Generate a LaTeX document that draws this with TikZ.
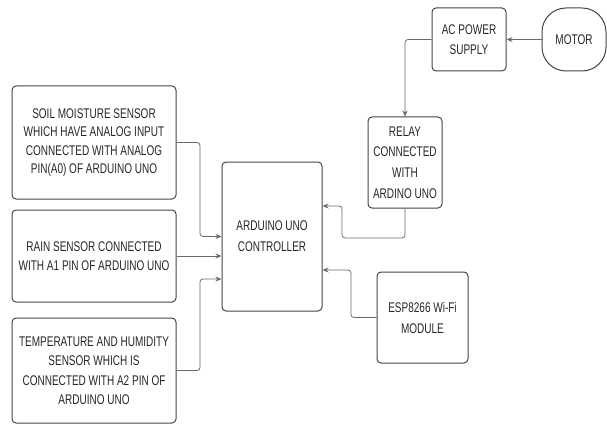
\documentclass[tikz,border=0pt]{standalone}
\usepackage{fontspec}
\setmainfont{Liberation Sans}[FakeStretch=0.715]
\usetikzlibrary{arrows.meta}
\definecolor{txt}{HTML}{262626}
\definecolor{bord}{HTML}{454545}
\definecolor{wire}{HTML}{6A6A6A}
\begin{document}
\begin{tikzpicture}[x=1pt,y=-1pt,
  box/.style={draw=bord,line width=1pt,rounded corners=4pt,inner sep=0pt,align=center,
    text=txt,font=\fontsize{14}{19.5}\selectfont},
  conn/.style={draw=wire,line width=0.8pt,rounded corners=3pt,
    -{Stealth[length=6pt,width=5pt]}}]
\useasboundingbox (0,0) rectangle (607,425);
% nodes
\node[box,minimum width=164pt,minimum height=113pt,font=\fontsize{14}{18.3}\selectfont] (soil) at (94,142.5)
  {SOIL MOISTURE SENSOR\\WHICH HAVE ANALOG INPUT\\CONNECTED WITH ANALOG\\PIN(A0) OF ARDUINO UNO};
\node[box,minimum width=164pt,minimum height=92pt] (rain) at (94,256)
  {RAIN SENSOR CONNECTED\\WITH A1 PIN OF ARDUINO UNO};
\node[box,minimum width=164pt,minimum height=105pt] (temp) at (94,370.5)
  {TEMPERATURE AND HUMIDITY\\SENSOR WHICH IS\\CONNECTED WITH A2 PIN OF\\ARDUINO UNO};
\node[box,minimum width=100pt,minimum height=149pt,font=\fontsize{14}{21}\selectfont] (ard) at (272,236.5)
  {ARDUINO UNO\\CONTROLLER};
\node[box,minimum width=74pt,minimum height=91pt,font=\fontsize{14}{20.7}\selectfont] (relay) at (405,162.5)
  {RELAY\\CONNECTED\\WITH\\ARDINO UNO};
\node[box,minimum width=74pt,minimum height=63pt] (ac) at (469,39.5)
  {AC POWER\\SUPPLY};
\node[box,rounded corners=24pt,minimum width=64pt,minimum height=63pt] (motor) at (574,39.5)
  {MOTOR};
\node[box,minimum width=91pt,minimum height=91pt,font=\fontsize{14}{21}\selectfont] (esp) at (422.5,317.5)
  {ESP8266 Wi-Fi\\MODULE};
% bend points
\coordinate (b1) at (200,236.5);
\coordinate (b3) at (200,279);
\coordinate (r1) at (342,238);
\coordinate (r2) at (342,206);
\coordinate (e1) at (351,270);
% connectors
\draw[conn] (soil.east) -| (b1) -- (ard.west);
\draw[conn] (rain.east) -- (rain.east -| ard.west);
\draw[conn] (temp.east) -| (b3) -- (b3 -| ard.west);
\draw[conn] (relay.south) |- (r1) -- (r2) -- (r2 -| ard.east);
\draw[conn] (esp.west) -| (e1) -- (e1 -| ard.east);
\draw[conn] (motor.west) -- (ac.east);
\draw[conn] (ac.west) -| (relay.north);
\end{tikzpicture}
\end{document}
